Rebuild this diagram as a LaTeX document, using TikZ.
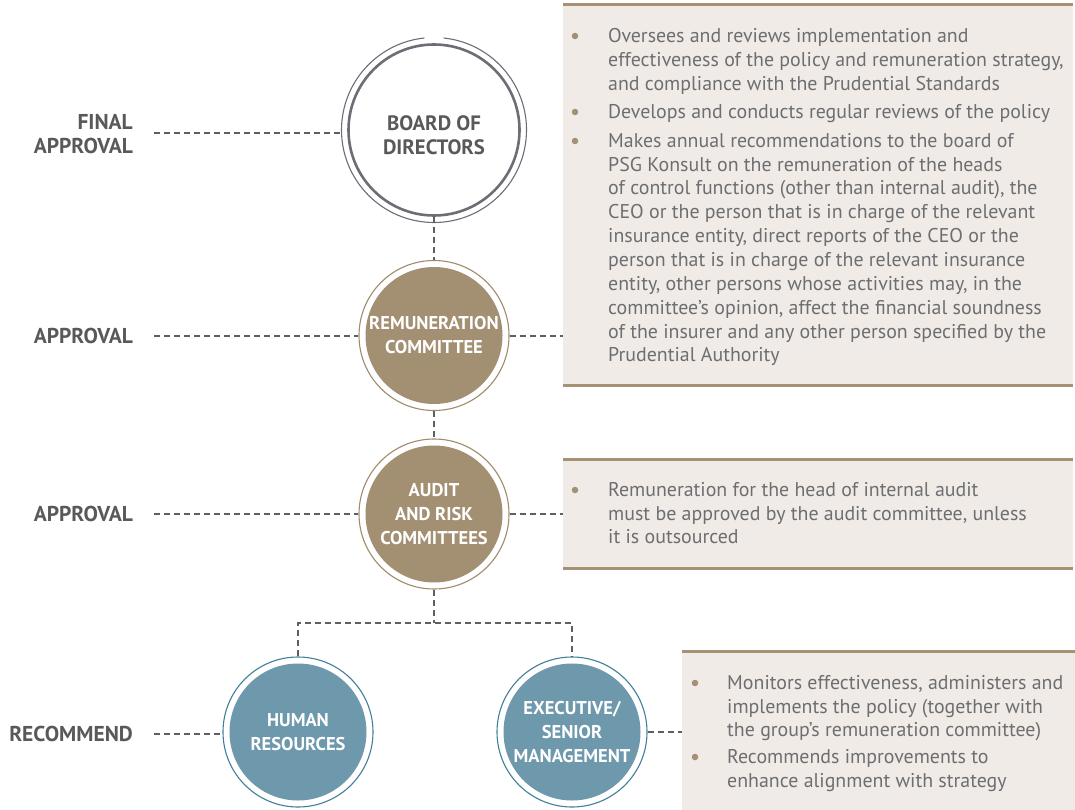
\documentclass[tikz,border=0pt]{standalone}
\usepackage{fontspec}
\setmainfont{PT Sans}
\usetikzlibrary{calc}
\definecolor{dgray}{HTML}{58595B}
\definecolor{bodygray}{HTML}{6D6E71}
\definecolor{lgray}{HTML}{5E5F62}
\definecolor{boardring}{HTML}{6C6D75}
\definecolor{tanfill}{HTML}{A38F72}
\definecolor{tanring}{HTML}{A08B6B}
\definecolor{bluefill}{HTML}{6E98AB}
\definecolor{bluering}{HTML}{427F99}
\definecolor{boxfill}{HTML}{F0EBE7}
\definecolor{boxline}{HTML}{A59274}
\begin{document}
\begin{tikzpicture}[x=1pt,y=-1pt,
  dashline/.style={draw=lgray, line width=2pt, dash pattern=on 6pt off 4pt},
  sidelbl/.style={font=\bfseries\fontsize{21.5}{24}\selectfont, text=dgray, align=right, anchor=east, inner sep=0pt},
  circlbl/.style={font=\bfseries\fontsize{18.5}{24}\selectfont, align=center, inner sep=0pt},
  bodytxt/.style={font=\fontsize{19.9}{23.85}\selectfont, text=bodygray, align=left, anchor=north west, inner sep=0pt},
  bul/.style={circle, fill=tanfill, minimum size=6.5pt, inner sep=0pt},
  ringtan/.style={circle, draw=tanring, line width=1.1pt, minimum size=150pt, inner sep=0pt},
  filltan/.style={circle, fill=tanfill, minimum size=137pt, inner sep=0pt, text=white, circlbl},
  ringblue/.style={circle, draw=bluering, line width=1.1pt, minimum size=150pt, inner sep=0pt},
  fillblue/.style={circle, fill=bluefill, minimum size=137pt, inner sep=0pt, text=white, circlbl},
  infobox/.style={fill=boxfill, draw=none, anchor=north west, inner sep=0pt},
  boxrule/.style={draw=boxline, line width=3pt}
]
\useasboundingbox (0,0) rectangle (1075,810);

% ---------- boxes ----------
\node[infobox, minimum width=510pt, minimum height=380pt] (box1) at (563,5) {};
\draw[boxrule] (box1.north west) -- (box1.north east);
\draw[boxrule] (box1.south west) -- (box1.south east);
\node[infobox, minimum width=510pt, minimum height=109pt] (box2) at (563,459) {};
\draw[boxrule] (box2.north west) -- (box2.north east);
\draw[boxrule] (box2.south west) -- (box2.south east);
\node[infobox, minimum width=393pt, minimum height=159pt] (box3) at (682,651) {};
\draw[boxrule] (box3.north west) -- (box3.north east);

% ---------- circles ----------
\node[circle, draw=boardring, line width=2.6pt, minimum size=171pt, inner sep=0pt] (board) at (434,130) {};
\node[circle, minimum size=185pt, inner sep=0pt] (boardout) at (434,130) {};
\draw[boardring, line width=1.1pt] (board.center) ++(-84:92.5) arc[start angle=-84, end angle=264, radius=92.5];
\node[circlbl, text=dgray, font=\bfseries\fontsize{20.8}{24}\selectfont] (boardtxt) at (434,135) {BOARD OF\\DIRECTORS};

\node[ringtan] (remout) at (434,335.5) {};
\node[filltan] (rem) at (434,335.5) {REMUNERATION\\COMMITTEE};

\node[ringtan] (audout) at (434,514) {};
\node[filltan] (aud) at (434,514) {AUDIT\\AND RISK\\COMMITTEES};

\node[ringblue] (hrout) at (298,732) {};
\node[fillblue] (hr) at (298,732) {HUMAN\\RESOURCES};

\node[ringblue] (exout) at (572,732) {};
\node[fillblue] (ex) at (572,732) {EXECUTIVE/\\SENIOR\\MANAGEMENT};

% ---------- side labels ----------
\node[sidelbl] (lfinal) at (133,134) {FINAL\\APPROVAL};
\node[sidelbl] (lrem) at (133,336) {APPROVAL};
\node[sidelbl] (laud) at (133,514) {APPROVAL};
\node[sidelbl] (lrec) at (133,734) {RECOMMEND};

% ---------- connectors ----------
\draw[dashline] ($(lfinal.east)+(21,-1)$) -- ($(lfinal.east -| boardout.west)+(0,-1)$);
\draw[dashline] ($(lrem.east)+(21,0)$) -- (lrem.east -| remout.west);
\draw[dashline] ($(laud.east)+(21,0)$) -- (laud.east -| audout.west);
\draw[dashline] ($(lrec.east)+(21,0)$) -- (lrec.east -| hrout.west);

\draw[dashline] (board.south) -- (remout.north);
\draw[dashline] (remout.south) -- (audout.north);
\coordinate (junc) at (434,623);
\draw[dashline] (audout.south) -- (junc);
\draw[dashline] (hrout.north) |- (junc) -| (exout.north);

\draw[dashline] (remout.east) -- (remout.east -| box1.west);
\draw[dashline] (audout.east) -- (audout.east -| box2.west);
\draw[dashline] (exout.east) -- (exout.east -| box3.west);

% ---------- box texts ----------
\node[bul] (b1a) at (575,36) {};
\node[bodytxt] (t1a) at (608,28) {Oversees and reviews implementation and\\effectiveness of the policy and remuneration strategy,\\and compliance with the Prudential Standards};
\node[bul] (b1b) at (575,112) {};
\node[bodytxt] (t1b) at (608,104) {Develops and conducts regular reviews of the policy};
\node[bul] (b1c) at (575,141) {};
\node[bodytxt] (t1c) at (608,133) {Makes annual recommendations to the board of\\PSG Konsult on the remuneration of the heads\\of control functions (other than internal audit), the\\CEO or the person that is in charge of the relevant\\insurance entity, direct reports of the CEO or the\\person that is in charge of the relevant insurance\\entity, other persons whose activities may, in the\\committee’s opinion, affect the financial soundness\\of the insurer and any other person specified by the\\Prudential Authority};

\node[bul] (b2a) at (575,490) {};
\node[bodytxt] (t2a) at (608,482) {Remuneration for the head of internal audit\\must be approved by the audit committee, unless\\it is outsourced};

\node[bul] (b3a) at (695,683) {};
\node[bodytxt] (t3a) at (727,675) {Monitors effectiveness, administers and\\implements the policy (together with\\the group’s remuneration committee)};
\node[bul] (b3b) at (695,757) {};
\node[bodytxt] (t3b) at (727,749) {Recommends improvements to\\enhance alignment with strategy};
\end{tikzpicture}
\end{document}
